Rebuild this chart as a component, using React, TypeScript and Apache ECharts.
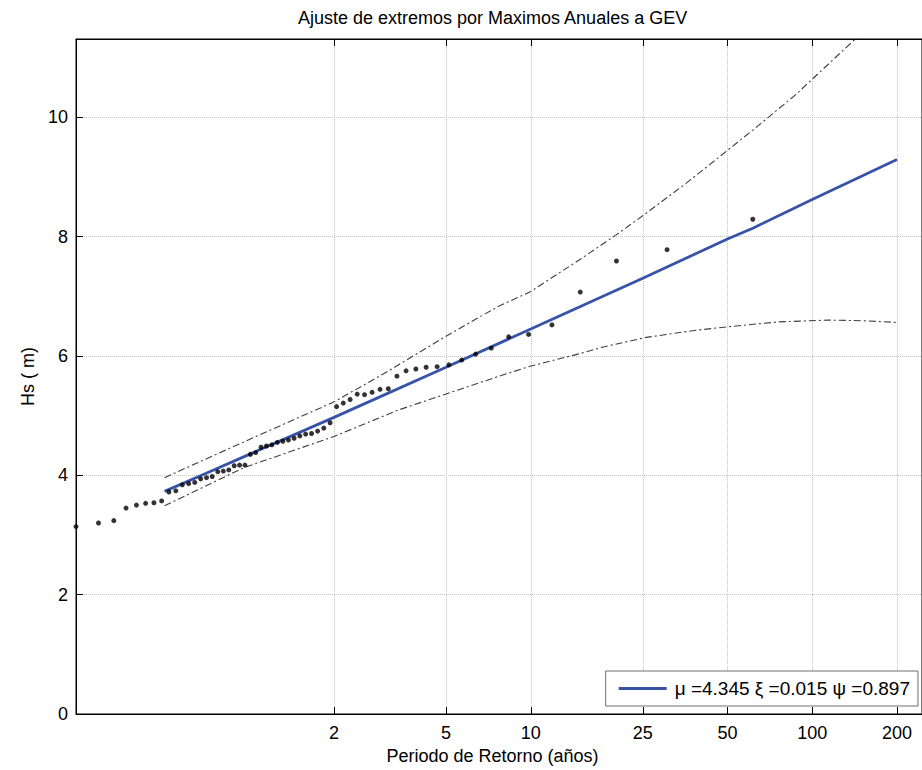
import React, { useEffect, useRef } from 'react';
import * as echarts from 'echarts';

// Return-period tick labels (years) and Hs tick labels (m)
const periodTicks = [2, 5, 10, 25, 50, 100, 200];
const hsTicks = [0, 2, 4, 6, 8, 10];

// Observed annual maxima: return period (years) and Hs (m)
const obsPeriod = [0.2423, 0.2912, 0.3302, 0.3649, 0.3972, 0.4282, 0.4584, 0.4884, 0.5181, 0.5481, 0.5783, 0.6089, 0.6401, 0.672, 0.7047, 0.7383, 0.7729, 0.8085, 0.8455, 0.8839, 0.9237, 0.9652, 1.0085, 1.0536, 1.101, 1.1507, 1.203, 1.258, 1.3161, 1.3776, 1.4427, 1.512, 1.5857, 1.6645, 1.7489, 1.8396, 1.9372, 2.0429, 2.1575, 2.2816, 2.4178, 2.5674, 2.7315, 2.9146, 3.1182, 3.3467, 3.6062, 3.9073, 4.2493, 4.6488, 5.1201, 5.6854, 6.3759, 7.2385, 8.3472, 9.8251, 11.892, 14.995, 20.161, 30.497, 61.5];
const obsHs = [3.14, 3.2, 3.24, 3.45, 3.5, 3.53, 3.54, 3.57, 3.72, 3.74, 3.84, 3.86, 3.88, 3.94, 3.96, 3.98, 4.06, 4.07, 4.09, 4.16, 4.17, 4.17, 4.35, 4.38, 4.47, 4.49, 4.51, 4.55, 4.57, 4.59, 4.62, 4.66, 4.69, 4.7, 4.74, 4.79, 4.88, 5.15, 5.21, 5.27, 5.36, 5.35, 5.39, 5.44, 5.45, 5.66, 5.75, 5.78, 5.81, 5.82, 5.85, 5.93, 6.03, 6.13, 6.32, 6.36, 6.52, 7.07, 7.59, 7.78, 8.29];

// Fitted GEV return levels
const fitPeriod = [0.5, 0.7, 1, 2, 5, 10, 25, 50, 61.5, 100, 200];
const fitHs = [3.73, 4.03, 4.35, 4.97, 5.81, 6.45, 7.3, 7.96, 8.14, 8.62, 9.29];

// Upper confidence band
const upperPeriod = [0.5, 1, 2, 3, 5, 7.6, 10, 15, 20, 25.7, 35.6, 61.4, 87, 140, 200];
const upperHs = [3.96, 4.6, 5.23, 5.7, 6.33, 6.82, 7.08, 7.62, 8.02, 8.39, 8.89, 9.78, 10.37, 11.28, 11.9];

// Lower confidence band
const lowerPeriod = [0.5, 0.96, 2, 3.37, 5.06, 7.6, 10, 15, 18.1, 25.7, 38.6, 50.6, 76, 114, 150, 200];
const lowerHs = [3.49, 4.13, 4.65, 5.09, 5.37, 5.65, 5.83, 6.04, 6.15, 6.31, 6.43, 6.49, 6.57, 6.6, 6.59, 6.56];

const fitName = 'μ =4.345 ξ =0.015 ψ =0.897';
const FONT = '"Liberation Sans", Arial, Helvetica, sans-serif';

const toPts = (xs: number[], ys: number[]) => xs.map((t, i) => [Math.log10(t), ys[i]]);

export default function App() {
  const ref = useRef<HTMLDivElement>(null);
  useEffect(() => {
    if (!ref.current) return;
    const chart = echarts.init(ref.current, undefined, { renderer: 'svg' });
    const xMin = Math.log10(0.2423);
    const xMax = 2.39;
    const xTickVals = periodTicks.map((p) => Math.log10(p));
    const ciStyle = { color: '#3f3f3f', width: 1.1, type: [7, 3, 2, 3] as any };
    chart.setOption({
      animation: false,
      backgroundColor: '#fff',
      textStyle: { fontFamily: FONT },
      title: {
        text: 'Ajuste de extremos por Maximos Anuales a GEV',
        left: 298,
        top: 9,
        padding: 0,
        textStyle: { fontSize: 18, fontWeight: 'normal', color: '#000', fontFamily: FONT },
      },
      grid: {
        left: 76,
        right: -5,
        top: 39,
        bottom: 56,
        show: true,
        borderColor: '#000',
        borderWidth: 1,
        backgroundColor: 'transparent',
      },
      legend: {
        data: [{ name: fitName, icon: 'rect' }],
        right: 4,
        bottom: 64,
        padding: [8, 8, 8, 13],
        borderColor: '#6e6e6e',
        borderWidth: 1,
        backgroundColor: '#fff',
        itemWidth: 48,
        itemHeight: 3,
        selectedMode: false,
        textStyle: { fontSize: 19, color: '#000', fontFamily: FONT, padding: [0, 0, 0, 3] },
      },
      xAxis: [
        {
          type: 'value',
          min: xMin,
          max: xMax,
          name: 'Periodo de Retorno (años)',
          nameLocation: 'middle',
          nameGap: 31,
          nameTextStyle: { fontSize: 18, color: '#000', padding: [0, 13, 0, 0] },
          axisLine: { show: true, onZero: false, lineStyle: { color: '#000', width: 1 } },
          axisTick: { show: true, inside: true, length: 7, customValues: xTickVals, lineStyle: { color: '#000' } },
          axisLabel: {
            customValues: xTickVals,
            margin: 10,
            fontSize: 18,
            color: '#000',
            formatter: (v: number) => String(Math.round(Math.pow(10, v))),
          },
          splitLine: { show: true, lineStyle: { color: '#c4c4c4', type: 'dotted', width: 1 } },
        },
        {
          type: 'value',
          position: 'top',
          min: xMin,
          max: xMax,
          axisLine: { show: true, onZero: false, lineStyle: { color: '#000', width: 1 } },
          axisTick: { show: true, inside: true, length: 7, customValues: xTickVals, lineStyle: { color: '#000' } },
          axisLabel: { show: false },
          splitLine: { show: false },
        },
      ],
      yAxis: {
        type: 'value',
        min: 0,
        max: 11.31,
        name: 'Hs ( m)',
        nameLocation: 'middle',
        nameGap: 38,
        nameTextStyle: { fontSize: 18, color: '#000' },
        axisLine: { show: true, onZero: false, lineStyle: { color: '#000', width: 1 } },
        axisTick: { show: true, inside: true, length: 7, customValues: hsTicks, lineStyle: { color: '#000' } },
        axisLabel: { customValues: hsTicks, margin: 8, fontSize: 18, color: '#000' },
        splitLine: { show: true, lineStyle: { color: '#c4c4c4', type: 'dotted', width: 1 } },
      },
      series: [
        {
          name: 'upper',
          type: 'line',
          data: toPts(upperPeriod, upperHs),
          symbol: 'none',
          lineStyle: ciStyle,
          z: 2,
        },
        {
          name: 'lower',
          type: 'line',
          data: toPts(lowerPeriod, lowerHs),
          symbol: 'none',
          lineStyle: ciStyle,
          z: 2,
        },
        {
          name: fitName,
          type: 'line',
          data: toPts(fitPeriod, fitHs),
          symbol: 'none',
          lineStyle: { color: '#3753a8', width: 2.8 },
          itemStyle: { color: '#3753a8' },
          z: 3,
        },
        {
          name: 'obs',
          type: 'scatter',
          data: toPts(obsPeriod, obsHs),
          symbol: 'circle',
          symbolSize: 5,
          itemStyle: { color: '#000' },
          clip: false,
          z: 4,
        },
      ],
    });
    return () => chart.dispose();
  }, []);
  return (
    <div
      ref={ref}
      style={{ position: 'absolute', left: 0, top: 0, width: 922, height: 770, background: '#fff' }}
    />
  );
}
